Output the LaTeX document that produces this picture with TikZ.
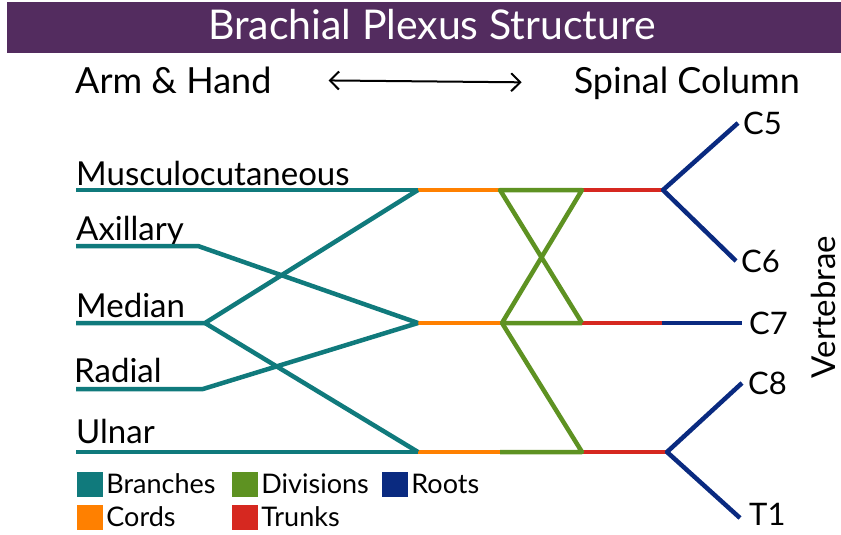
\documentclass[tikz,border=0pt]{standalone}
\usepackage{fontspec}
\setmainfont{Lato}
\usepackage{tikz}
\usetikzlibrary{arrows.meta,positioning}
\definecolor{titlepurple}{RGB}{83,44,95}
\definecolor{branchteal}{RGB}{16,122,124}
\definecolor{cordorange}{RGB}{255,128,0}
\definecolor{divgreen}{RGB}{94,146,34}
\definecolor{trunkred}{RGB}{214,40,32}
\definecolor{rootblue}{RGB}{10,42,128}

\begin{document}
\begin{tikzpicture}[x=1pt,y=-1pt,node distance=3pt,
    every node/.style={inner sep=0pt,font=\fontsize{33}{36}\selectfont},
    nerve/.style={line width=4.5pt,line join=round},
    rootlbl/.style={font=\fontsize{31}{34}\selectfont},
    legsq/.style={minimum width=26pt,minimum height=25pt},
    legtxt/.style={font=\fontsize{27}{30}\selectfont}]
  \useasboundingbox (0,0) rectangle (841,535);
  \fill[titlepurple] (7,2) rectangle (841,53);
  \node[anchor=base,text=white,font=\fontsize{41}{44}\selectfont] (title) at (432,40) {Brachial Plexus Structure};
  \node[anchor=base west,font=\fontsize{36}{40}\selectfont] (arm) at (75,93) {Arm \& Hand};
  \node[anchor=base east,font=\fontsize{36}{40}\selectfont] (spine) at (800,93) {Spinal Column};
  \draw[{Straight Barb[length=9pt,width=18pt]}-{Straight Barb[length=9pt,width=18pt]},line width=2pt,
        shorten <=57pt,shorten >=52pt] (arm.east) -- (spine.west);
  % nerve labels
  \node[anchor=base west] (musc) at (76,185) {Musculocutaneous};
  \node[anchor=base west] (axil) at (76,240) {Axillary};
  \node[anchor=base west] (medi) at (76,317) {Median};
  \node[anchor=base west] (radi) at (74,382) {Radial};
  \node[anchor=base west] (ulna) at (76,443) {Ulnar};
  % junctions
  \coordinate (muscL) at (76,190);
  \coordinate (axilL) at (76,246);
  \coordinate (mediL) at (76,323);
  \coordinate (radiL) at (76,389);
  \coordinate (ulnaL) at (76,452);
  \coordinate (axilB) at (198,246);
  \coordinate (mediB) at (205,323);
  \coordinate (radiB) at (203,389);
  \coordinate (cord1) at (418,190);
  \coordinate (cord2) at (418,323);
  \coordinate (cord3) at (418,452);
  \coordinate (div1) at (500,190);
  \coordinate (div2) at (502,323);
  \coordinate (div3) at (500,452);
  \coordinate (trunk1) at (582,190);
  \coordinate (trunk2) at (582,323);
  \coordinate (trunk3) at (582,452);
  \coordinate (root1) at (663,190);
  \coordinate (root2) at (662,323);
  \coordinate (root3) at (667,452);
  \coordinate (c5end) at (738,123);
  \coordinate (c6end) at (736,261);
  \coordinate (c7end) at (742,323);
  \coordinate (c8end) at (742,383);
  \coordinate (t1end) at (740,518);
  % cords and trunks
  \foreach \i in {1,2,3} {
    \draw[nerve,cordorange] (cord\i) -- (div\i);
    \draw[nerve,trunkred] (trunk\i) -- (root\i);
  }
  % branches
  \draw[nerve,branchteal] (muscL) -- (cord1);
  \draw[nerve,branchteal] (axilL) -- (axilB) -- (cord2);
  \draw[nerve,branchteal] (mediL) -- (mediB) -- (cord1);
  \draw[nerve,branchteal] (mediB) -- (cord3);
  \draw[nerve,branchteal] (radiL) -- (radiB) -- (cord2);
  \draw[nerve,branchteal] (ulnaL) -- (cord3);
  % divisions
  \draw[nerve,divgreen] (trunk2) -- (div1) -- (trunk1) -- (div2) -- (trunk2);
  \draw[nerve,divgreen] (div2) -- (trunk3) -- (div3);
  % roots
  \draw[nerve,rootblue] (c5end) -- (root1) -- (c6end);
  \draw[nerve,rootblue] (root2) -- (c7end);
  \draw[nerve,rootblue] (c8end) -- (root3) -- (t1end);
  \node[rootlbl,right=5pt of c5end] (c5) {C5};
  \node[rootlbl,right=5pt of c6end] (c6) {C6};
  \node[rootlbl,right=7pt of c7end] (c7) {C7};
  \node[rootlbl,right=6pt of c8end] (c8) {C8};
  \node[rootlbl,right=9pt of t1end,yshift=4pt] (t1) {T1};
  \node[rotate=90] (vert) at (823,307) {Vertebrae};
  % legend
  \node[legsq,fill=branchteal] (lgbr) at (90,484) {};
  \node[legtxt,right=of lgbr] (lgbrt) {Branches};
  \node[legsq,fill=divgreen] (lgdi) at (245,484) {};
  \node[legtxt,right=of lgdi] (lgdit) {Divisions};
  \node[legsq,fill=rootblue] (lgro) at (395,484) {};
  \node[legtxt,right=of lgro] (lgrot) {Roots};
  \node[legsq,fill=cordorange] (lgco) at (90,517) {};
  \node[legtxt,right=of lgco] (lgcot) {Cords};
  \node[legsq,fill=trunkred] (lgtr) at (245,517) {};
  \node[legtxt,right=of lgtr] (lgtrt) {Trunks};
\end{tikzpicture}
\end{document}
